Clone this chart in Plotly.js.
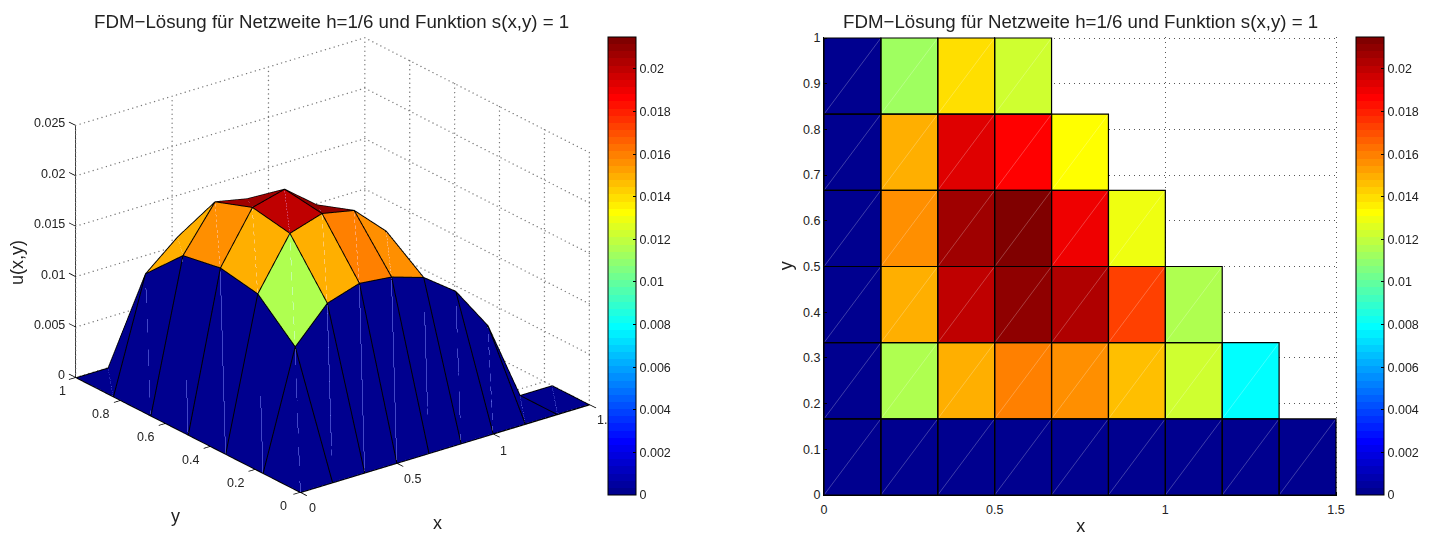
<!DOCTYPE html>
<html><head><meta charset="utf-8">
<script src="https://cdn.plot.ly/plotly-3.0.1.min.js"></script>
<style>html,body{margin:0;padding:0;background:#fff}#c{width:1437px;height:536px}</style>
</head><body><div id="c"></div>
<script>
const h = 1/6;
const gridX = [0,1,2,3,4,5,6,7,8,9].map(i=>i*h);
const gridY = [0,1,2,3,4,5,6].map(j=>j*h);
// u(x,y) at grid vertices, rows y=0 .. y=1; each row ends where the domain ends
const row0 = [0,0,0,0,0,0,0,0,0,0];
const row1 = [0,0.01159,0.01495,0.01596,0.01562,0.01461,0.01226,0.00789,0,0];
const row2 = [0,0.01495,0.01999,0.02099,0.02033,0.0173,0.01159,0,0];
const row3 = [0,0.01562,0.02066,0.0215,0.01898,0.01293,0,0];
const row4 = [0,0.01495,0.01932,0.01865,0.01327,0,0];
const row5 = [0,0.01125,0.01394,0.01226,0,0];
const row6 = [0,0,0,0,0];
const U = [row0,row1,row2,row3,row4,row5,row6];

const cbTicks = [0,0.002,0.004,0.006,0.008,0.01,0.012,0.014,0.016,0.018,0.02];
const cbLabels = ['0','0.002','0.004','0.006','0.008','0.01','0.012','0.014','0.016','0.018','0.02'];
const xTicks2d = [0,0.5,1,1.5];
const yTicks2d = [0,0.1,0.2,0.3,0.4,0.5,0.6,0.7,0.8,0.9,1];
const xTicks3d = [0,0.5,1,1.5];
const xLabels3d = ['0','0.5','1','1.']; // the last label is cut off by the colour bar in the original
const yTicks3d = [0,0.2,0.4,0.6,0.8,1];
const zTicks3d = [0,0.005,0.01,0.015,0.02,0.025];
const titleText = 'FDM\u2212Lösung für Netzweite h=1/6 und Funktion s(x,y) = 1';
const cMax = 0.0215;

const W=1437,H=536;
const font = {family:'"Liberation Sans",Arial,sans-serif',color:'#222'};
// MATLAB-style 64-level jet
const jetU=[];for(let k=1;k<=16;k++)jetU.push(k/16);for(let k=0;k<15;k++)jetU.push(1);for(let k=16;k>=1;k--)jetU.push(k/16);
function jetLevel(m){ // m = 1..64
  const at=o=>{const q=m-o-1;return (q>=0&&q<47)?jetU[q]:0;};
  const c=v=>Math.round(255*v);
  return `rgb(${c(at(24))},${c(at(8))},${c(at(-8))})`;
}
const jet64=[];
for(let k=0;k<64;k++){const col=jetLevel(k+1);jet64.push([k/64,col]);jet64.push([(k+1)/64,col]);}

function colorbar(px){
  return {x:px/W,xanchor:'left',xpad:0,y:1-37/H,yanchor:'top',ypad:0,thickness:28,thicknessmode:'pixels',
    len:458,lenmode:'pixels',outlinecolor:'#000',outlinewidth:1,borderwidth:0,
    ticks:'inside',ticklen:3,tickcolor:'#000',tickwidth:1,tickvals:cbTicks,ticktext:cbLabels,
    tickfont:Object.assign({size:12.5},font)};
}

// ---------- surface as flat-coloured mesh ----------
const vx=[],vy=[],vz=[],idx={};
U.forEach((r,j)=>r.forEach((z,i)=>{idx[i+','+j]=vx.length;vx.push(gridX[i]);vy.push(gridY[j]);vz.push(z);}));
const fi=[],fj=[],fk=[],fc=[];
const ex=[],ey=[],ez=[],fx=[],fy=[],fz=[];
const cellZ=[];
// small nudge toward the viewer so the edge lines are not buried in the faces
const nx=-0.01,ny=-0.01,nz=0.00014;
for(let j=0;j<6;j++){
  const rowCells=[];
  for(let i=0;i<9;i++){
    const a=idx[i+','+j],b=idx[(i+1)+','+j],c=idx[(i+1)+','+(j+1)],d=idx[i+','+(j+1)];
    if(a===undefined||b===undefined||c===undefined||d===undefined){rowCells.push(null);continue;}
    const v=U[j][i];
    rowCells.push(v);
    fi.push(a,a);fj.push(b,c);fk.push(c,d);fc.push(v,v);
    [a,b,c,d,a].forEach(q=>{ex.push(vx[q]+nx);ey.push(vy[q]+ny);ez.push(vz[q]+nz);});
    ex.push(NaN);ey.push(NaN);ez.push(NaN);
    [a,c].forEach(q=>{fx.push(vx[q]+nx/2);fy.push(vy[q]+ny/2);fz.push(vz[q]+nz/2);});
    fx.push(NaN);fy.push(NaN);fz.push(NaN);
  }
  cellZ.push(rowCells);
}
const traces=[];
traces.push({type:'mesh3d',scene:'scene',x:vx,y:vy,z:vz,i:fi,j:fj,k:fk,intensity:fc,intensitymode:'cell',
  colorscale:jet64,cmin:0,cmax:cMax,flatshading:true,hoverinfo:'skip',
  lighting:{ambient:1,diffuse:0,specular:0,roughness:1,fresnel:0},colorbar:colorbar(608)});
traces.push({type:'scatter3d',mode:'lines',scene:'scene',x:fx,y:fy,z:fz,line:{color:'rgba(130,140,210,0.5)',width:1},hoverinfo:'skip',showlegend:false});
traces.push({type:'scatter3d',mode:'lines',scene:'scene',x:ex,y:ey,z:ez,line:{color:'#000',width:2},hoverinfo:'skip',showlegend:false});

// dotted walls and floor: a dot row along every grid line
const gx=[],gy=[],gz=[],ax=[],ay=[],az=[];
function dots(p,q,n){for(let k=0;k<=n;k++){const t=k/n;gx.push(p[0]+(q[0]-p[0])*t);gy.push(p[1]+(q[1]-p[1])*t);gz.push(p[2]+(q[2]-p[2])*t);}}
function seg(p,q){ax.push(p[0],q[0],NaN);ay.push(p[1],q[1],NaN);az.push(p[2],q[2],NaN);}
const zT=zTicks3d[zTicks3d.length-1];
xTicks3d.forEach(x=>{dots([x,0,0],[x,1,0],56);dots([x,1,0],[x,1,zT],56);});
yTicks3d.forEach(y=>{dots([0,y,0],[1.5,y,0],66);dots([1.5,y,0],[1.5,y,zT],56);});
zTicks3d.forEach(z=>{dots([0,1,z],[1.5,1,z],66);dots([1.5,1,z],[1.5,0,z],56);});
seg([0,0,0],[1.5,0,0]);seg([0,0,0],[0,1,0]);seg([0,1,0],[0,1,zT]);
xTicks3d.forEach(x=>seg([x,0,0],[x,-0.03,0]));
yTicks3d.forEach(y=>seg([0,y,0],[-0.035,y,0]));
zTicks3d.forEach(z=>seg([0,1,z],[0,1.03,z]));
traces.push({type:'scatter3d',mode:'markers',scene:'scene',x:gx,y:gy,z:gz,marker:{color:'#777',size:0.8,line:{width:0}},hoverinfo:'skip',showlegend:false});
traces.push({type:'scatter3d',mode:'lines',scene:'scene',x:ax,y:ay,z:az,line:{color:'#000',width:1.5},hoverinfo:'skip',showlegend:false});

// ---------- pcolor ----------
traces.push({type:'heatmap',x:gridX,y:gridY,z:cellZ,zmin:0,zmax:cMax,colorscale:jet64,hoverinfo:'skip',colorbar:colorbar(1356),xaxis:'x',yaxis:'y'});
const bx=[],by=[],sx=[],sy=[];
cellZ.forEach((r,j)=>r.forEach((v,i)=>{
  if(v===null)return;
  const x0=gridX[i],x1=gridX[i+1],y0=gridY[j],y1=gridY[j+1];
  bx.push(x0,x1,x1,x0,x0,null);by.push(y0,y0,y1,y1,y0,null);
  sx.push(x0,x1,null);sy.push(y0,y1,null);
}));
traces.push({type:'scatter',mode:'lines',x:sx,y:sy,line:{color:'rgba(255,255,255,0.35)',width:0.7},hoverinfo:'skip',showlegend:false,xaxis:'x',yaxis:'y'});
traces.push({type:'scatter',mode:'lines',x:bx,y:by,line:{color:'#000',width:1.2},hoverinfo:'skip',showlegend:false,xaxis:'x',yaxis:'y'});

// ---------- layout ----------
const phi=37.6*Math.PI/180,el=23.2*Math.PI/180,dist=1.06,S=1.505;
const eye={x:-dist*Math.sin(phi)*Math.cos(el),y:-dist*Math.cos(phi)*Math.cos(el),z:dist*Math.sin(el)};
const hid={visible:false,showgrid:false,zeroline:false,showspikes:false,showbackground:false,autorange:false};
function lab(x,y,z,text,xs,ys,anchor){return {x,y,z,text,showarrow:false,xshift:xs,yshift:-ys,xanchor:anchor||'center',yanchor:'middle',font:Object.assign({size:12.5},font)};}
const sceneAnn=[];
const xsh=[[12,16],[16,16],[11,17],[13,15]];
xTicks3d.forEach((x,q)=>sceneAnn.push(lab(x,0,0,xLabels3d[q],xsh[q][0],xsh[q][1])));
yTicks3d.forEach(y=>sceneAnn.push(lab(0,y,0,String(y),y===0?-17:(y===1?-13:-20),14)));
zTicks3d.forEach(z=>sceneAnn.push(lab(0,1,z,String(z),-9,-2,'right')));
function ann(px,py,text,size,rot){return {xref:'paper',yref:'paper',x:px/W,y:1-py/H,text,showarrow:false,xanchor:'center',yanchor:'middle',textangle:rot||0,font:Object.assign({size},font)};}
const layout={width:W,height:H,margin:{l:0,r:0,t:0,b:0},paper_bgcolor:'#fff',plot_bgcolor:'#fff',showlegend:false,hovermode:false,
  scene:{domain:{x:[0,665/W],y:[1-530/H,1]},
    aspectmode:'manual',aspectratio:{x:S*414.8/400,y:S*442.8/400,z:S*319/400},
    camera:{eye,up:{x:0,y:0,z:1},center:{x:0,y:0,z:0},projection:{type:'orthographic'}},
    xaxis:Object.assign({range:[-0.1,1.6]},hid),yaxis:Object.assign({range:[-0.1,1.1]},hid),zaxis:Object.assign({range:[-0.002,0.027]},hid),
    annotations:sceneAnn},
  xaxis:{domain:[824/W,1337.3/W],range:[0,1.5038],tickvals:xTicks2d,ticktext:xTicks2d.map(String),ticks:'inside',ticklen:3,tickcolor:'#000',ticklabelstandoff:3,
    showline:true,linecolor:'#000',linewidth:1,showgrid:true,gridcolor:'#555',griddash:'1px 4px',gridwidth:1,zeroline:false,tickfont:Object.assign({size:12.5},font),
    title:{text:'x',font:Object.assign({size:18},font),standoff:6}},
  yaxis:{domain:[1-495/H,1-36.7/H],range:[0,1.00285],tickvals:yTicks2d,ticktext:yTicks2d.map(String),ticks:'inside',ticklen:3,tickcolor:'#000',
    showline:true,linecolor:'#000',linewidth:1,showgrid:true,gridcolor:'#555',griddash:'1px 4px',gridwidth:1,zeroline:false,tickfont:Object.assign({size:12.5},font),
    title:{text:'y',font:Object.assign({size:18},font),standoff:5}},
  annotations:[ann(331,22,titleText,18.7),ann(1080,22,titleText,18.7),ann(437,523,'x',18),ann(175,516,'y',18),ann(17,263,'u(x,y)',18,-90)]
};
Plotly.newPlot('c',traces,layout,{displayModeBar:false});
</script></body></html>
